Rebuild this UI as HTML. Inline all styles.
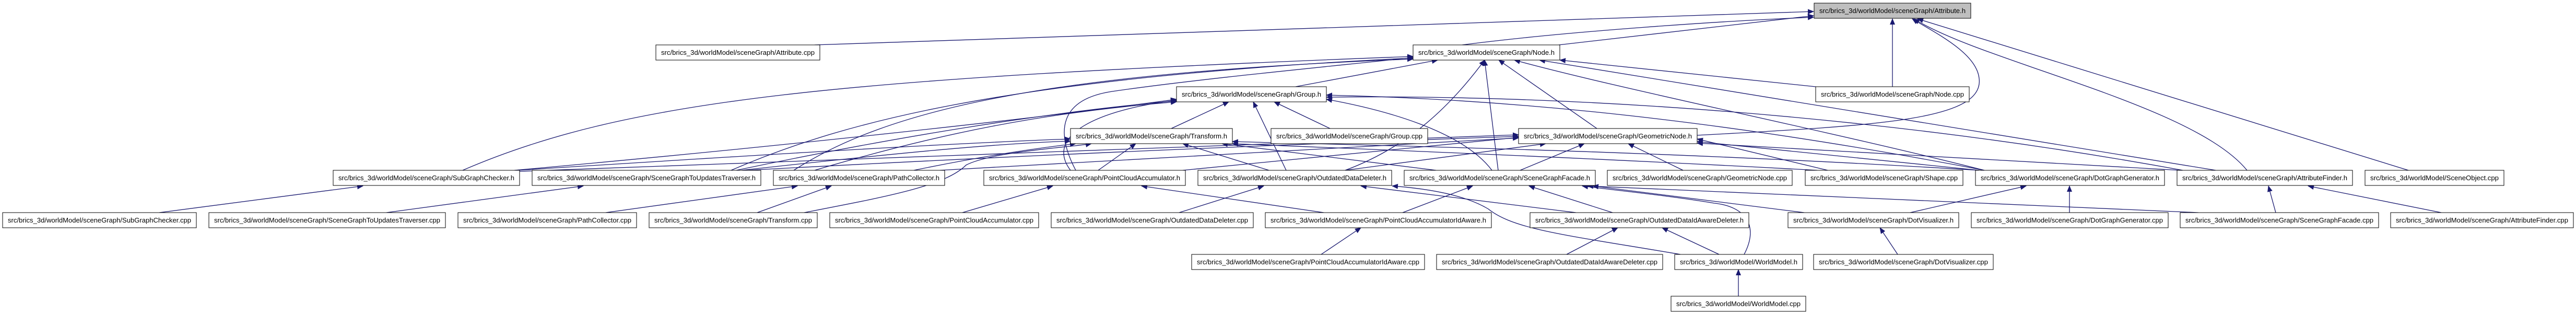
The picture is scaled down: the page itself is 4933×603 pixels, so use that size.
<!DOCTYPE html>
<html><head><meta charset="utf-8"><style>
html,body{margin:0;padding:0;background:#fff;}
svg{display:block;}
text{font-family:"Liberation Sans",Arial,sans-serif;font-size:13px;fill:#000;}
.e{fill:none;stroke:#191970;stroke-width:1.3;}
</style></head><body>
<svg width="4933" height="603" viewBox="0 0 4933 603" xmlns="http://www.w3.org/2000/svg">
<defs><marker id="a" markerWidth="12" markerHeight="10" refX="11" refY="5" orient="auto" markerUnits="userSpaceOnUse"><path d="M0,0 L12,5 L0,10 z" fill="#191970"/></marker></defs>
<g class="e" marker-end="url(#a)">
<!-- to Attribute.h -->
<path d="M1560 86 L3473 22"/>
<path d="M2985 86 L3473 30"/>
<path d="M2800 86 C3000 60, 3300 40, 3473 33"/>
<path d="M3624 166 L3624 36"/>
<path d="M3250 259 C3600 240, 3800 230, 3790 150 C3785 100, 3700 60, 3662 36"/>
<path d="M4303 326 C4200 200, 3800 120, 3665 36"/>
<path d="M4612 326 L3672 36"/>
<!-- to Node.h -->
<path d="M2481 166 L2753 115"/>
<path d="M3477 166 L2987 115"/>
<path d="M4243 326 L2948 115"/>
<path d="M3800 326 C3500 250, 3100 170, 2900 115"/>
<path d="M3058 246 L2870 115"/>
<path d="M2869 326 L2843 115"/>
<path d="M2576 326 C2700 280, 2780 200, 2843 115"/>
<path d="M886 326 C1200 190, 1600 150, 2706 108"/>
<path d="M1400 326 C1600 240, 1900 150, 2706 111"/>
<path d="M1520 326 C1700 210, 2000 140, 2706 113"/>
<path d="M2060 326 C2020 250, 2030 190, 2130 175 C2300 150, 2600 122, 2706 110"/>
<!-- to Group.h -->
<path d="M2243 246 L2353 195"/>
<path d="M2547 246 L2440 195"/>
<path d="M2463 326 L2400 195"/>
<path d="M2857 326 C2800 250, 2650 210, 2540 190"/>
<path d="M2050 326 C2000 260, 2100 210, 2253 192"/>
<path d="M3800 326 C3300 230, 2900 190, 2540 182"/>
<path d="M4180 326 C3600 220, 3000 180, 2540 186"/>
<path d="M985 326 C1500 280, 2000 225, 2253 190"/>
<path d="M1410 326 C1700 265, 2000 215, 2253 193"/>
<path d="M1560 326 C1800 255, 2000 215, 2253 195"/>
<!-- to Transform.h -->
<path d="M2103 326 L2175 275"/>
<path d="M2430 326 L2265 275"/>
<path d="M2750 326 L2340 275"/>
<path d="M3790 326 C3200 290, 2700 280, 2360 271"/>
<path d="M3480 326 C3000 300, 2600 285, 2360 275"/>
<path d="M990 326 C1400 300, 1800 275, 2050 266"/>
<path d="M1420 326 C1700 295, 1900 275, 2050 270"/>
<path d="M1750 326 C1900 295, 2000 282, 2060 275"/>
<path d="M1540 407 C1700 376, 1810 356, 1850 316 C1900 290, 2050 282, 2090 275"/>
<!-- to GeometricNode.h -->
<path d="M2911 326 L3034 275"/>
<path d="M3223 326 L3118 275"/>
<path d="M2576 326 L2960 275"/>
<path d="M2265 326 L2908 263"/>
<path d="M3500 326 L3250 266"/>
<path d="M3790 326 L3250 271"/>
<path d="M4175 326 L3250 274"/>
<path d="M995 328 C1800 295, 2500 275, 2908 258"/>
<path d="M1430 326 C2000 295, 2500 275, 2908 261"/>
<path d="M1800 326 C2300 295, 2700 275, 2908 264"/>
<!-- row6 -> row5 -->
<path d="M305 407 L695 356"/>
<path d="M740 407 L1117 356"/>
<path d="M1160 407 L1527 356"/>
<path d="M1450 407 L1592 356"/>
<path d="M1843 407 L2016 356"/>
<path d="M2258 407 L2420 356"/>
<path d="M2535 407 L2186 356"/>
<path d="M2686 407 L2820 356"/>
<path d="M3018 407 L2606 356"/>
<path d="M3088 407 L2928 356"/>
<path d="M3455 407 L3050 356"/>
<path d="M4210 407 L3040 356"/>
<path d="M3658 407 L3880 356"/>
<path d="M3963 407 L3963 356"/>
<path d="M4358 407 L4344 356"/>
<path d="M4675 407 L4420 356"/>
<path d="M3218 487 C3000 450, 2900 440, 2850 400 C2800 370, 2720 360, 2666 356"/>
<path d="M3340 487 C3370 430, 3340 395, 3283 389 C3200 375, 3100 365, 3030 356"/>
<!-- row7/8 -->
<path d="M2530 487 L2606 436"/>
<path d="M3000 487 L3098 436"/>
<path d="M3292 487 L3183 436"/>
<path d="M3634 487 L3600 436"/>
<path d="M3329 567 L3329 516"/>
</g>
<g fill="#fff" stroke="#000" stroke-width="1">
<rect x="3474" y="6" width="300" height="29" fill="#bfbfbf"/>
<rect x="1256" y="86" width="314" height="29"/>
<rect x="2706" y="86" width="281" height="29"/>
<rect x="2253" y="166" width="287" height="29"/>
<rect x="3477" y="166" width="294" height="29"/>
<rect x="2050" y="246" width="310" height="29"/>
<rect x="2434" y="246" width="300" height="29"/>
<rect x="2908" y="246" width="342" height="29"/>
<rect x="638" y="326" width="357" height="29"/>
<rect x="1019" y="326" width="438" height="29"/>
<rect x="1481" y="326" width="328" height="29"/>
<rect x="1884" y="326" width="386" height="29"/>
<rect x="2294" y="326" width="371" height="29"/>
<rect x="2689" y="326" width="366" height="29"/>
<rect x="3078" y="326" width="354" height="29"/>
<rect x="3457" y="326" width="302" height="29"/>
<rect x="3783" y="326" width="362" height="29"/>
<rect x="4169" y="326" width="336" height="29"/>
<rect x="4529" y="326" width="266" height="29"/>
<rect x="5" y="407" width="371" height="29"/>
<rect x="400" y="407" width="453" height="29"/>
<rect x="877" y="407" width="342" height="29"/>
<rect x="1243" y="407" width="322" height="29"/>
<rect x="1589" y="407" width="400" height="29"/>
<rect x="2013" y="407" width="387" height="29"/>
<rect x="2423" y="407" width="433" height="29"/>
<rect x="2930" y="407" width="419" height="29"/>
<rect x="3424" y="407" width="327" height="29"/>
<rect x="3775" y="407" width="377" height="29"/>
<rect x="4175" y="407" width="380" height="29"/>
<rect x="4578" y="407" width="350" height="29"/>
<rect x="2282" y="487" width="446" height="29"/>
<rect x="2751" y="487" width="433" height="29"/>
<rect x="3207" y="487" width="245" height="29"/>
<rect x="3473" y="487" width="344" height="29"/>
<rect x="3200" y="567" width="258" height="29"/>
</g>
<g lengthAdjust="spacingAndGlyphs">
<text x="3484" y="25" textLength="280" lengthAdjust="spacingAndGlyphs">src/brics_3d/worldModel/sceneGraph/Attribute.h</text>
<text x="1266" y="105" textLength="294" lengthAdjust="spacingAndGlyphs">src/brics_3d/worldModel/sceneGraph/Attribute.cpp</text>
<text x="2716" y="105" textLength="261" lengthAdjust="spacingAndGlyphs">src/brics_3d/worldModel/sceneGraph/Node.h</text>
<text x="2263" y="185" textLength="267" lengthAdjust="spacingAndGlyphs">src/brics_3d/worldModel/sceneGraph/Group.h</text>
<text x="3487" y="185" textLength="274" lengthAdjust="spacingAndGlyphs">src/brics_3d/worldModel/sceneGraph/Node.cpp</text>
<text x="2060" y="265" textLength="290" lengthAdjust="spacingAndGlyphs">src/brics_3d/worldModel/sceneGraph/Transform.h</text>
<text x="2444" y="265" textLength="280" lengthAdjust="spacingAndGlyphs">src/brics_3d/worldModel/sceneGraph/Group.cpp</text>
<text x="2918" y="265" textLength="322" lengthAdjust="spacingAndGlyphs">src/brics_3d/worldModel/sceneGraph/GeometricNode.h</text>
<text x="648" y="345" textLength="337" lengthAdjust="spacingAndGlyphs">src/brics_3d/worldModel/sceneGraph/SubGraphChecker.h</text>
<text x="1029" y="345" textLength="418" lengthAdjust="spacingAndGlyphs">src/brics_3d/worldModel/sceneGraph/SceneGraphToUpdatesTraverser.h</text>
<text x="1491" y="345" textLength="308" lengthAdjust="spacingAndGlyphs">src/brics_3d/worldModel/sceneGraph/PathCollector.h</text>
<text x="1894" y="345" textLength="366" lengthAdjust="spacingAndGlyphs">src/brics_3d/worldModel/sceneGraph/PointCloudAccumulator.h</text>
<text x="2304" y="345" textLength="351" lengthAdjust="spacingAndGlyphs">src/brics_3d/worldModel/sceneGraph/OutdatedDataDeleter.h</text>
<text x="2699" y="345" textLength="346" lengthAdjust="spacingAndGlyphs">src/brics_3d/worldModel/sceneGraph/SceneGraphFacade.h</text>
<text x="3088" y="345" textLength="334" lengthAdjust="spacingAndGlyphs">src/brics_3d/worldModel/sceneGraph/GeometricNode.cpp</text>
<text x="3467" y="345" textLength="282" lengthAdjust="spacingAndGlyphs">src/brics_3d/worldModel/sceneGraph/Shape.cpp</text>
<text x="3793" y="345" textLength="342" lengthAdjust="spacingAndGlyphs">src/brics_3d/worldModel/sceneGraph/DotGraphGenerator.h</text>
<text x="4179" y="345" textLength="316" lengthAdjust="spacingAndGlyphs">src/brics_3d/worldModel/sceneGraph/AttributeFinder.h</text>
<text x="4539" y="345" textLength="246" lengthAdjust="spacingAndGlyphs">src/brics_3d/worldModel/SceneObject.cpp</text>
<text x="15" y="426" textLength="351" lengthAdjust="spacingAndGlyphs">src/brics_3d/worldModel/sceneGraph/SubGraphChecker.cpp</text>
<text x="410" y="426" textLength="433" lengthAdjust="spacingAndGlyphs">src/brics_3d/worldModel/sceneGraph/SceneGraphToUpdatesTraverser.cpp</text>
<text x="887" y="426" textLength="322" lengthAdjust="spacingAndGlyphs">src/brics_3d/worldModel/sceneGraph/PathCollector.cpp</text>
<text x="1253" y="426" textLength="302" lengthAdjust="spacingAndGlyphs">src/brics_3d/worldModel/sceneGraph/Transform.cpp</text>
<text x="1599" y="426" textLength="380" lengthAdjust="spacingAndGlyphs">src/brics_3d/worldModel/sceneGraph/PointCloudAccumulator.cpp</text>
<text x="2023" y="426" textLength="367" lengthAdjust="spacingAndGlyphs">src/brics_3d/worldModel/sceneGraph/OutdatedDataDeleter.cpp</text>
<text x="2433" y="426" textLength="413" lengthAdjust="spacingAndGlyphs">src/brics_3d/worldModel/sceneGraph/PointCloudAccumulatorIdAware.h</text>
<text x="2940" y="426" textLength="399" lengthAdjust="spacingAndGlyphs">src/brics_3d/worldModel/sceneGraph/OutdatedDataIdAwareDeleter.h</text>
<text x="3434" y="426" textLength="307" lengthAdjust="spacingAndGlyphs">src/brics_3d/worldModel/sceneGraph/DotVisualizer.h</text>
<text x="3785" y="426" textLength="357" lengthAdjust="spacingAndGlyphs">src/brics_3d/worldModel/sceneGraph/DotGraphGenerator.cpp</text>
<text x="4185" y="426" textLength="360" lengthAdjust="spacingAndGlyphs">src/brics_3d/worldModel/sceneGraph/SceneGraphFacade.cpp</text>
<text x="4588" y="426" textLength="330" lengthAdjust="spacingAndGlyphs">src/brics_3d/worldModel/sceneGraph/AttributeFinder.cpp</text>
<text x="2292" y="506" textLength="426" lengthAdjust="spacingAndGlyphs">src/brics_3d/worldModel/sceneGraph/PointCloudAccumulatorIdAware.cpp</text>
<text x="2761" y="506" textLength="413" lengthAdjust="spacingAndGlyphs">src/brics_3d/worldModel/sceneGraph/OutdatedDataIdAwareDeleter.cpp</text>
<text x="3217" y="506" textLength="225" lengthAdjust="spacingAndGlyphs">src/brics_3d/worldModel/WorldModel.h</text>
<text x="3483" y="506" textLength="324" lengthAdjust="spacingAndGlyphs">src/brics_3d/worldModel/sceneGraph/DotVisualizer.cpp</text>
<text x="3210" y="586" textLength="238" lengthAdjust="spacingAndGlyphs">src/brics_3d/worldModel/WorldModel.cpp</text>
</g>
</svg>
</body></html>
